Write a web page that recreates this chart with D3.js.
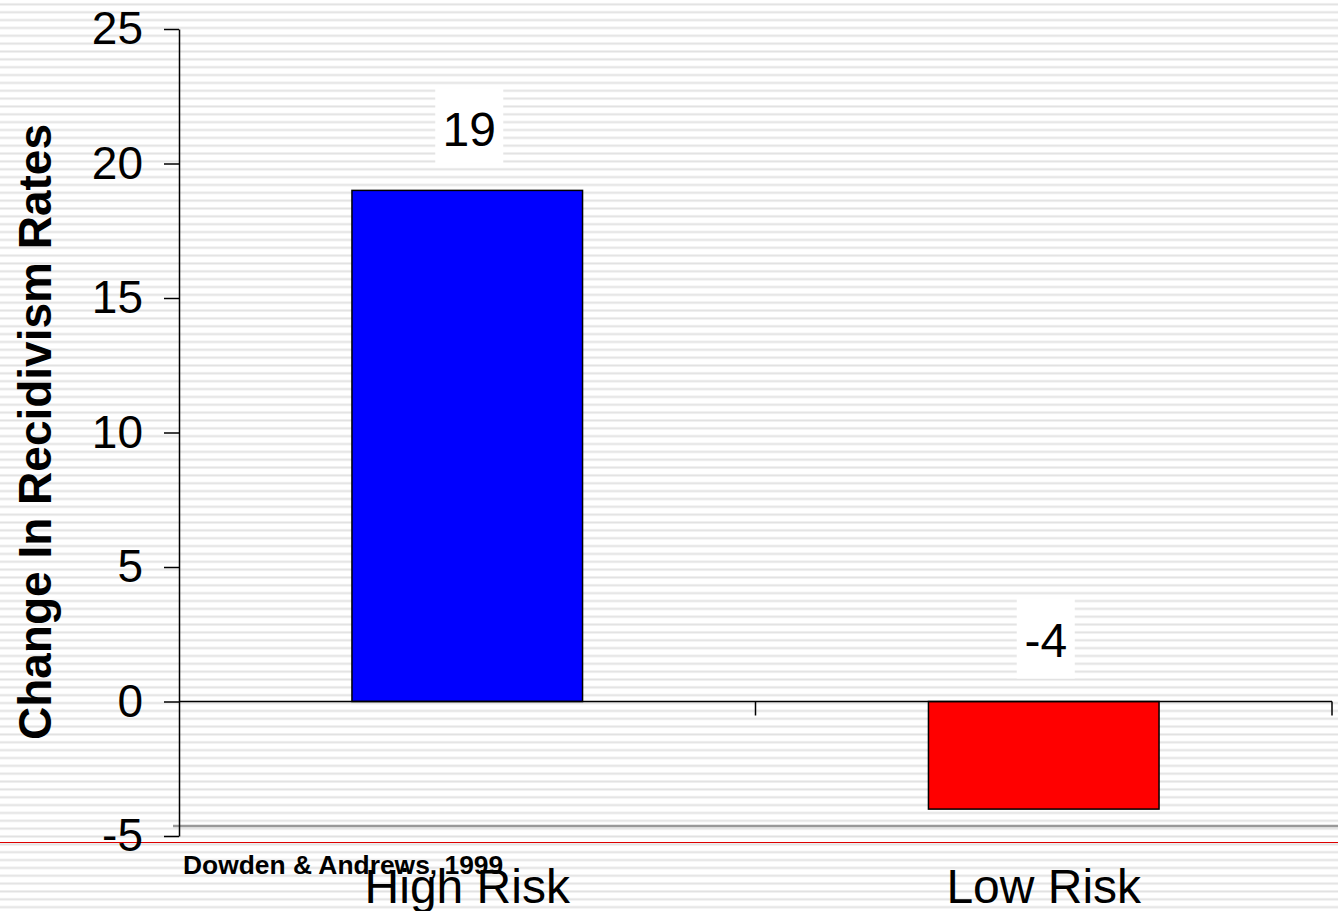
<!DOCTYPE html>
<html>
<head>
<meta charset="utf-8">
<script src="https://cdn.jsdelivr.net/npm/d3@7"></script>
<style>
  html, body { margin: 0; padding: 0; background: #fff; }
  svg { display: block; font-family: "Liberation Sans", Arial, sans-serif; }
  .axis path, .axis line { stroke: #000; stroke-width: 1.5; }
  .axis text { font-size: 46px; fill: #000; }
</style>
</head>
<body>
<div id="chart"></div>
<script>
var categories = ["High Risk", "Low Risk"];
var values = [19, -4];
var barColors = ["#0000ff", "#ff0000"];
var yTicks = [-5, 0, 5, 10, 15, 20, 25];
var yTitle = "Change In Recidivism Rates";
var source = "Dowden & Andrews, 1999";

var w = 1338, h = 911;

var svg = d3.select("#chart").append("svg")
  .attr("width", w)
  .attr("height", h);

// striped slide background
var pat = svg.append("defs").append("pattern")
  .attr("id", "stripes")
  .attr("patternUnits", "userSpaceOnUse")
  .attr("width", 20)
  .attr("height", 7.85);
pat.append("rect").attr("width", 20).attr("height", 7.85).attr("fill", "#fff");
pat.append("rect").attr("y", 3.4).attr("width", 20).attr("height", 2).attr("fill", "#e2e2e2");

svg.append("rect")
  .attr("width", w)
  .attr("height", h)
  .attr("fill", "url(#stripes)");

var xScale = d3.scaleBand()
  .domain(categories)
  .range([179, 1332])
  .paddingInner(0.6)
  .paddingOuter(0.3);

var yScale = d3.scaleLinear()
  .domain([-5, 25])
  .range([836, 29]);

// slide decorations
svg.append("line")
  .attr("x1", 173).attr("x2", w)
  .attr("y1", 826).attr("y2", 826)
  .attr("stroke", "#999").attr("stroke-width", 2.5);

svg.append("line")
  .attr("x1", 0).attr("x2", w)
  .attr("y1", 842.5).attr("y2", 842.5)
  .attr("stroke", "#dd0000").attr("stroke-width", 1);

// bars
svg.selectAll(".bar")
  .data(values)
  .enter().append("rect")
  .attr("class", "bar")
  .attr("x", function(d, i) { return xScale(categories[i]); })
  .attr("width", xScale.bandwidth())
  .attr("y", function(d) { return yScale(Math.max(d, 0)); })
  .attr("height", function(d) { return Math.abs(yScale(d) - yScale(0)); })
  .attr("fill", function(d, i) { return barColors[i]; })
  .attr("stroke", "#000")
  .attr("stroke-width", 1.5);

// value labels with white boxes
var labels = svg.selectAll(".vlabel")
  .data(values)
  .enter().append("g")
  .attr("class", "vlabel")
  .attr("transform", function(d, i) {
    var cx = xScale(categories[i]) + xScale.bandwidth() / 2 + 2;
    var cy = yScale(Math.max(d, 0)) - 24 - 40;
    return "translate(" + cx + "," + cy + ")";
  });

labels.append("rect")
  .attr("x", function(d) { return d < 0 ? -29 : -34; })
  .attr("y", -40)
  .attr("width", function(d) { return d < 0 ? 58 : 68; })
  .attr("height", 81)
  .attr("fill", "#fff");

labels.append("text")
  .attr("text-anchor", "middle")
  .attr("dy", "0.36em")
  .attr("y", 2)
  .attr("font-size", 48)
  .text(function(d) { return String(d); });

// y axis
var yAxis = d3.axisLeft(yScale)
  .tickValues(yTicks)
  .tickFormat(function(d) { return String(d); })
  .tickSize(15)
  .tickSizeOuter(0)
  .tickPadding(21);

svg.append("g")
  .attr("class", "y axis")
  .attr("transform", "translate(179,0)")
  .call(yAxis);

// x axis at zero, ticks between categories
var xAxisG = svg.append("g")
  .attr("class", "x axis")
  .attr("transform", "translate(0," + yScale(0) + ")");

xAxisG.append("line")
  .attr("x1", 179).attr("x2", xScale.range()[1]);

xAxisG.selectAll(".xtick")
  .data(categories)
  .enter().append("line")
  .attr("class", "xtick")
  .attr("x1", function(d) { return xScale(d) + xScale.bandwidth() + xScale.step() * xScale.paddingInner() / 2; })
  .attr("x2", function(d) { return xScale(d) + xScale.bandwidth() + xScale.step() * xScale.paddingInner() / 2; })
  .attr("y1", 0).attr("y2", 14);

// category labels at bottom
svg.selectAll(".xlabel")
  .data(categories)
  .enter().append("text")
  .attr("class", "xlabel")
  .attr("x", function(d) { return xScale(d) + xScale.bandwidth() / 2; })
  .attr("y", 903)
  .attr("text-anchor", "middle")
  .attr("font-size", 48)
  .text(function(d) { return d; });

// y axis title
svg.append("text")
  .attr("transform", "translate(51,432) rotate(-90)")
  .attr("text-anchor", "middle")
  .attr("font-size", 46)
  .attr("font-weight", "bold")
  .text(yTitle);

// source note
svg.append("text")
  .attr("x", 183)
  .attr("y", 874)
  .attr("font-size", 26.4)
  .attr("font-weight", "bold")
  .text(source);
</script>
</body>
</html>
